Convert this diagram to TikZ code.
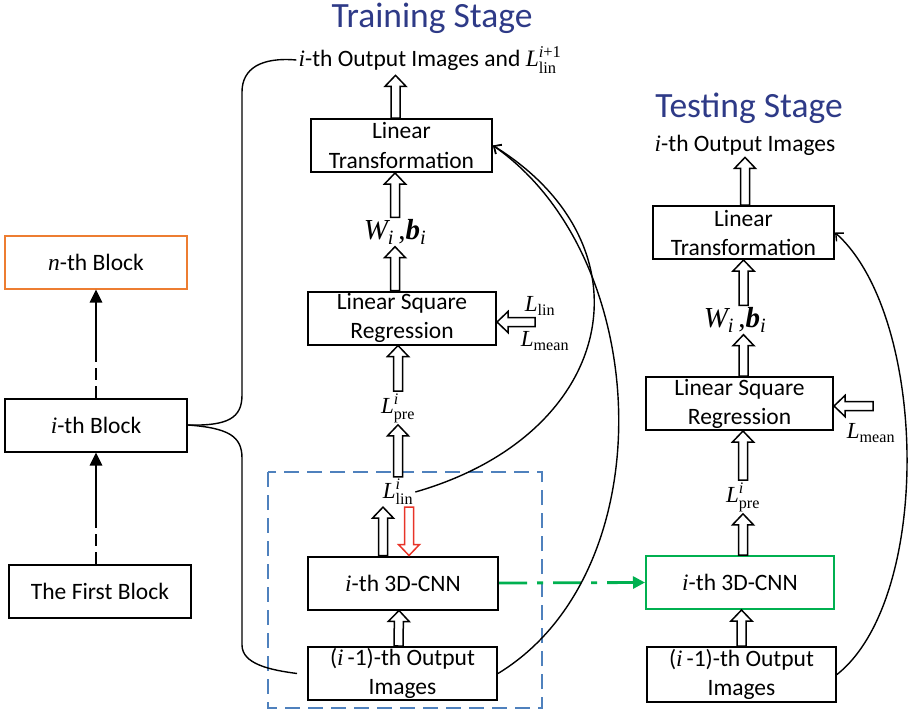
\documentclass[tikz,border=0pt]{standalone}
\usepackage{fontspec}
\setmainfont{Carlito}
\newfontfamily\tms{Liberation Serif}
\usepackage{amsmath}
\usetikzlibrary{positioning,calc,arrows.meta}

\definecolor{stageblue}{RGB}{46,58,135}
\definecolor{blockorange}{RGB}{237,125,49}
\definecolor{cnngreen}{RGB}{0,176,80}
\definecolor{boxblue}{RGB}{79,129,189}
\definecolor{lossred}{RGB}{232,52,40}

\newcommand{\tmi}[1]{\text{\tms\itshape #1}}
\newcommand{\tmr}[1]{\text{\tms #1}}
\newcommand{\ith}{{\tms\itshape i}-th}
\newcommand{\boxfont}{\fontsize{23.5}{29}\selectfont}

% hollow block arrow from #2 to #3
\newcommand{\holarrow}[3][draw=black]{%
  \coordinate (ha-a) at (#2);
  \coordinate (ha-b) at (#3);
  \coordinate (ha-n) at ($(ha-b)!11pt!(ha-a)$);
  \draw[holline,#1] ($(ha-a)!4.5pt!90:(ha-b)$) -- ($(ha-n)!4.5pt!-90:(ha-a)$)
    -- ($(ha-n)!10.5pt!-90:(ha-a)$) -- (ha-b) -- ($(ha-n)!10.5pt!90:(ha-a)$)
    -- ($(ha-n)!4.5pt!90:(ha-a)$) -- ($(ha-a)!4.5pt!-90:(ha-b)$) -- cycle;}

\begin{document}
\begin{tikzpicture}[x=1pt,y=-1pt,
    box/.style={draw,line width=2pt,inner sep=0pt,align=center,font=\boxfont,
      minimum width=#1,minimum height=53pt},
    box/.default=188pt,
    lbl/.style={inner sep=2pt,font=\boxfont},
    loss/.style={inner sep=2pt,font=\fontsize{23}{28}\selectfont},
    wlbl/.style={inner sep=2pt,font=\fontsize{29}{34}\selectfont},
    stage/.style={anchor=base,text=stageblue,font=\fontsize{35.5}{40}\selectfont},
    holline/.style={fill=white,line width=1.5pt,line join=miter},
    thinline/.style={line width=1.4pt},
    curvearrow/.style={line width=1.4pt,-{Straight Barb[length=6pt,width=11pt]}},
    blkdash/.style={line width=2.8pt,dash pattern=on 12pt off 6pt},
    blkarrow/.style={line width=2.8pt,-{Triangle[length=13pt,width=12pt]}},
    greenarrow/.style={cnngreen,line width=2.8pt,dash pattern=on 28pt off 10pt on 6pt off 10pt,
      -{Triangle[length=12pt,width=12pt]}},
    trainbox/.style={boxblue,line width=2pt,dash pattern=on 15pt off 8pt}]
  \useasboundingbox (0,0) rectangle (911,715);

  % block chain
  \node[box=182pt,draw=blockorange] (nb) at (96,262) {$\tmi{n}$-th Block};
  \node[box=182pt] (ib) at (96,425) {\ith{} Block};
  \node[box=182pt] (fb) at (100,591) {The First Block};
  \coordinate (fbmid) at (96,517);
  \coordinate (ibmid) at (96,353);
  \draw[blkdash] (fbmid|-fb.north) -- (fbmid);
  \draw[blkarrow] (fbmid) -- (fbmid|-ib.south);
  \draw[blkdash] (ib.north) -- (ibmid);
  \draw[blkarrow] (ibmid) -- (nb.south);

  % training stage
  \node[stage] (ttitle) at (432,27) {Training Stage};
  \node[lbl] (tout) at (430,60) {\ith{} Output Images and $\tmi{L}^{\tmi{i}\tmr{+1}}_{\tmr{lin}}$};
  \node[box=181pt] (tlt) at (401.5,145.5) {Linear\\Transformation};
  \node[wlbl] (twb) at (395,232) {$\tmi{W}_{\tmi{i}}\,\tmr{,}\text{\tms\bfseries\itshape b}_{\tmi{i}}$};
  \node[box] (tlsr) at (402,318) {Linear Square\\Regression};
  \node[loss] (tllin) at (540,306) {$\tmi{L}_{\tmr{lin}}$};
  \node[loss] (tlmean) at (545,341) {$\tmi{L}_{\tmr{mean}}$};
  \node[loss] (tpre) at (398,408) {$\tmi{L}^{\tmi{i}}_{\tmr{pre}}$};
  \node[loss] (tlin) at (398,492) {$\tmi{L}^{\tmi{i}}_{\tmr{lin}}$};
  \node[box=190pt] (tcnn) at (403,583) {\ith{} 3D-CNN};
  \node[box=189pt] (tprev) at (402.5,673.5) {({\tms\itshape i}\,-1)-th Output\\Images};
  \draw[trainbox] (268,472) rectangle (542,708);

  \holarrow{[xshift=-6pt]tlt.north}{[xshift=-6pt]tlt.north|-tout.south}
  \holarrow{twb.north}{tlt.south-|twb}
  \holarrow{tlsr.north-|twb}{twb.south}
  \holarrow{tpre.north}{tlsr.south-|tpre}
  \holarrow{tlin.north}{tpre.south}
  \holarrow{[xshift=-20pt]tcnn.north}{[xshift=-20pt]tcnn.north|-tlin.south}
  \holarrow[draw=lossred]{[xshift=6pt]tcnn.north|-tlin.south}{[xshift=6pt]tcnn.north}
  \holarrow{[xshift=-4pt]tprev.north}{[xshift=-4pt]tcnn.south}
  \coordinate (tloss) at (535,322);
  \holarrow{tloss}{tlsr.east|-tloss}

  % testing stage
  \node[stage] (stitle) at (749,117) {Testing Stage};
  \node[lbl] (sout) at (745,145) {\ith{} Output Images};
  \node[box=181pt] (slt) at (743.5,232.5) {Linear\\Transformation};
  \node[wlbl] (swb) at (735,320) {$\tmi{W}_{\tmi{i}}\,\tmr{,}\text{\tms\bfseries\itshape b}_{\tmi{i}}$};
  \node[box=187pt] (slsr) at (739.5,403.5) {Linear Square\\Regression};
  \node[loss] (slmean) at (871,433) {$\tmi{L}_{\tmr{mean}}$};
  \node[loss] (spre) at (743,497) {$\tmi{L}^{\tmi{i}}_{\tmr{pre}}$};
  \node[box,draw=cnngreen] (scnn) at (740,582.5) {\ith{} 3D-CNN};
  \node[box=189pt,minimum height=55pt] (sprev) at (741.5,674.5) {({\tms\itshape i}\,-1)-th Output\\Images};

  \holarrow{slt.north-|sout}{sout.south}
  \holarrow{swb.north-|slt}{slt.south}
  \holarrow{slsr.north-|slt}{swb.south-|slt}
  \holarrow{spre.north}{slsr.south-|spre}
  \holarrow{scnn.north-|spre}{spre.south}
  \holarrow{sprev.north}{scnn.south-|sprev}
  \coordinate (sloss) at (873,406);
  \holarrow{sloss}{slsr.east|-sloss}

  % connections
  \draw[thinline] (ib.east) .. controls (228,426) and (242,418) .. (242,395) -- (242,92)
    .. controls (242,68) and (262,57) .. (tout.west);
  \draw[thinline] (ib.east) .. controls (228,428) and (242,436) .. (242,458) -- (242,645)
    .. controls (242,664) and (270,670) .. ([xshift=-10pt]tprev.west);
  \draw[greenarrow] (tcnn.east) -- (scnn.west);
  \draw[curvearrow] (tlin.east) .. controls (617,434) and (655,246) .. (tlt.east);
  \draw[curvearrow] (tprev.east) .. controls (665,572) and (654,258) .. (tlt.east);
  \draw[curvearrow] (sprev.east) .. controls (933,598) and (928,316) .. (slt.east);
\end{tikzpicture}
\end{document}
